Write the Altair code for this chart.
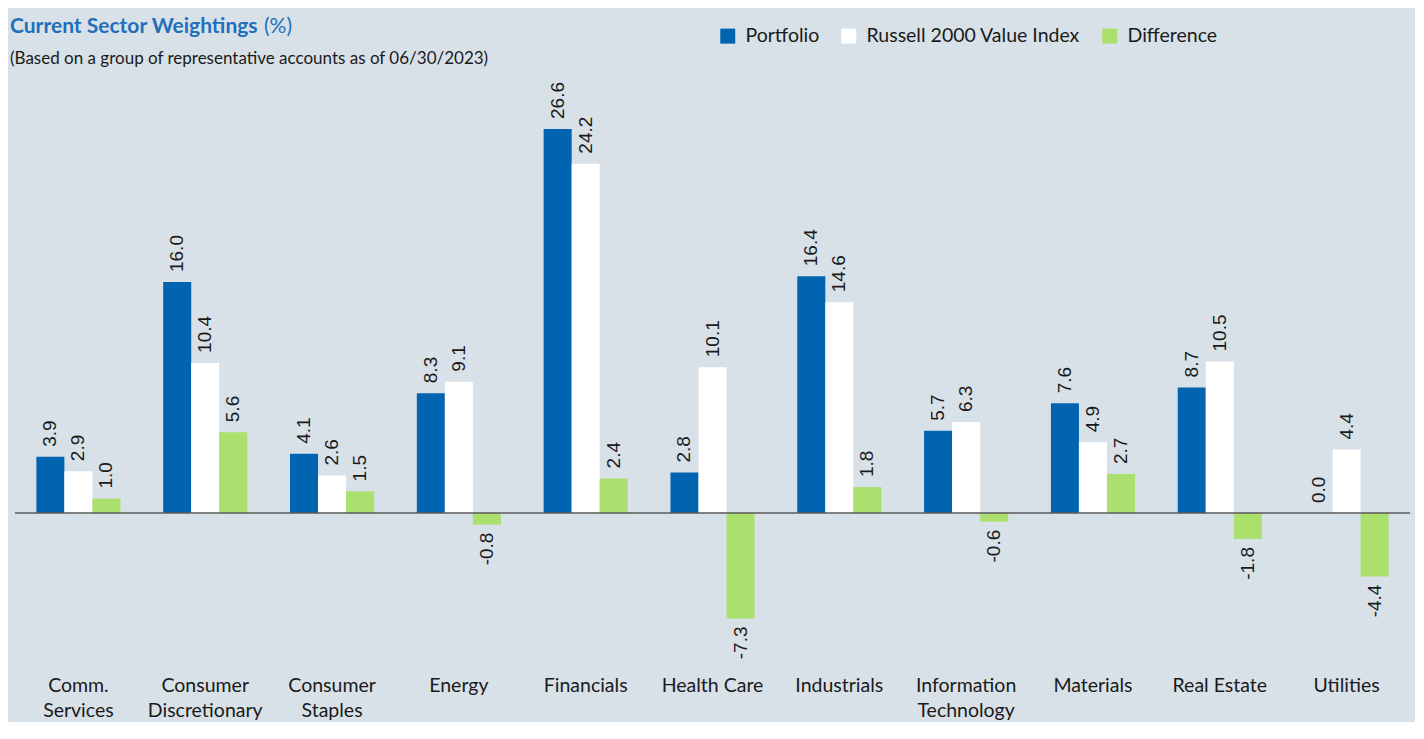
import altair as alt
import pandas as pd

sectors = ["Comm. Services", "Consumer Discretionary", "Consumer Staples", "Energy",
           "Financials", "Health Care", "Industrials", "Information Technology",
           "Materials", "Real Estate", "Utilities"]
portfolio = [3.9, 16.0, 4.1, 8.3, 26.6, 2.8, 16.4, 5.7, 7.6, 8.7, 0.0]
russell = [2.9, 10.4, 2.6, 9.1, 24.2, 10.1, 14.6, 6.3, 4.9, 10.5, 4.4]
difference = [1.0, 5.6, 1.5, -0.8, 2.4, -7.3, 1.8, -0.6, 2.7, -1.8, -4.4]
series_names = ["Portfolio", "Russell 2000 Value Index", "Difference"]
series_colors = ["#0064B0", "#FFFFFF", "#ABDF6E"]

rows = []
for name, vals in zip(series_names, [portfolio, russell, difference]):
    for s, v in zip(sectors, vals):
        rows.append({"sector": s, "series": name, "value": v, "label": f"{v:.1f}"})
df = pd.DataFrame(rows)

FONT = "Lato"
BG = "#D9E1E8"

x_enc = alt.X("sector:N", sort=sectors,
              scale=alt.Scale(paddingInner=0.337, paddingOuter=0.1685),
              axis=alt.Axis(title=None, labelAngle=0, domain=False, ticks=False,
                            labelFont=FONT, labelFontSize=19.5, labelColor="#1a1a1a",
                            labelPadding=6, labelLineHeight=25, labelLimit=300,
                            labelExpr="indexof(['Health Care','Real Estate'], datum.value) >= 0 ? datum.value : split(datum.value, ' ')"))
xo_enc = alt.XOffset("series:N", sort=series_names,
                     scale=alt.Scale(domain=series_names))
y_scale = alt.Scale(domain=[-10.87, 29.3], nice=False, zero=True)

base = alt.Chart(df)

bars = base.mark_bar(strokeWidth=0).encode(
    x=x_enc,
    xOffset=xo_enc,
    y=alt.Y("value:Q", scale=y_scale, axis=None),
    color=alt.Color("series:N", sort=series_names,
                    scale=alt.Scale(domain=series_names, range=series_colors),
                    legend=alt.Legend(title=None, orient="none", legendX=703, legendY=-64,
                                      direction="horizontal", symbolType="square",
                                      symbolSize=225, symbolStrokeWidth=0,
                                      symbolOpacity=1, labelLimit=400,
                                      labelFont=FONT, labelFontSize=19.5,
                                      labelColor="#1a1a1a", columnPadding=19,
                                      labelOffset=8)),
)

pos_labels = base.transform_filter("datum.value >= 0").mark_text(
    angle=270, align="left", baseline="middle", dx=10,
    font="Liberation Sans", fontSize=19, color="#1a1a1a"
).encode(
    x=alt.X("sector:N", sort=sectors),
    xOffset=xo_enc,
    y=alt.Y("value:Q", scale=y_scale),
    text="label:N",
)

neg_labels = base.transform_filter("datum.value < 0").mark_text(
    angle=270, align="right", baseline="middle", dx=-8,
    font="Liberation Sans", fontSize=19, color="#1a1a1a"
).encode(
    x=alt.X("sector:N", sort=sectors),
    xOffset=xo_enc,
    y=alt.Y("value:Q", scale=y_scale),
    text="label:N",
)

zero_rule = alt.Chart(pd.DataFrame({"z": [0]})).mark_rule(
    color="#5A5A5A", strokeWidth=1.5
).encode(y=alt.Y("z:Q", scale=y_scale))

one = pd.DataFrame({"a": [0]})
title_main = alt.Chart(one).mark_text(
    text="Current Sector Weightings", align="left", baseline="alphabetic",
    font=FONT, fontSize=21, fontWeight="bold", color="#1F6FBA"
).encode(x=alt.value(-5), y=alt.value(-57))
title_pct = alt.Chart(one).mark_text(
    text="(%)", align="left", baseline="alphabetic",
    font=FONT, fontSize=21, color="#1F6FBA"
).encode(x=alt.value(249), y=alt.value(-57))
subtitle = alt.Chart(one).mark_text(
    text="(Based on a group of representative accounts as of 06/30/2023)",
    align="left", baseline="alphabetic",
    font=FONT, fontSize=17, color="#1a1a1a"
).encode(x=alt.value(-5), y=alt.value(-26))

chart = alt.layer(
    bars, zero_rule, pos_labels, neg_labels, title_main, title_pct, subtitle
).properties(
    width=1395, height=580,
    padding={"left": 7, "top": 82, "right": 5, "bottom": 52},
    autosize=alt.AutoSizeParams(type="none"),
    background=BG,
).configure_view(stroke=None)

chart.save("out.html", embed_options={"renderer": "svg", "actions": False})
